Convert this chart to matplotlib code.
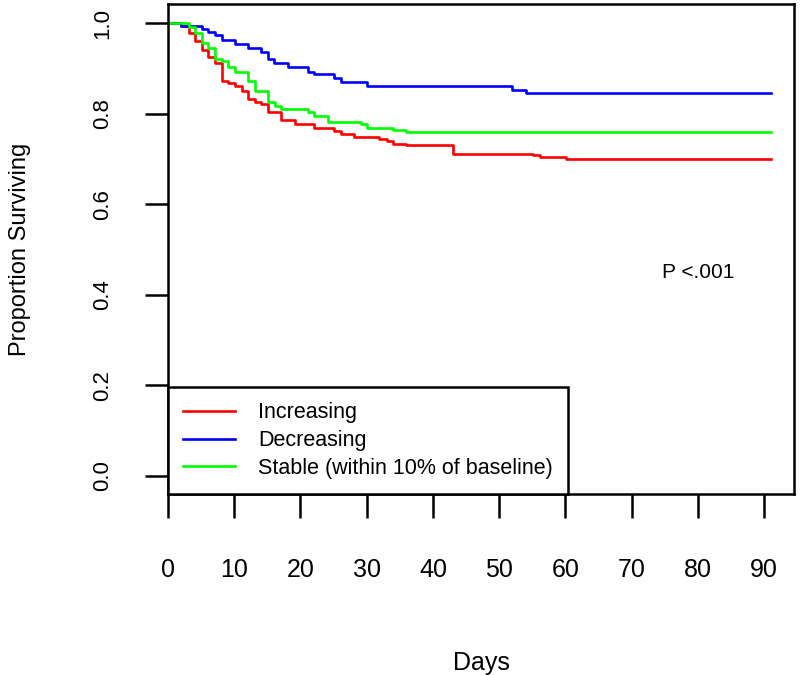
import numpy as np
import matplotlib.pyplot as plt

# Kaplan-Meier step data (days, proportion surviving)
inc_t = [0, 1.9, 3.1, 4.1, 5.1, 6.1, 7.1, 8.1, 9.1, 10.1, 11.1, 12.1, 13.1, 14.1, 15.1,
         17.1, 19.1, 22.1, 25.1, 26.1, 28.1, 31.9, 33.0, 34.0, 36.0, 43.0, 55.1, 56.1, 60.1]
inc_s = [1.0, 0.994, 0.979, 0.961, 0.940, 0.926, 0.912, 0.873, 0.868, 0.861, 0.849, 0.832,
         0.826, 0.821, 0.804, 0.787, 0.777, 0.768, 0.762, 0.755, 0.748, 0.743, 0.739, 0.734,
         0.730, 0.712, 0.709, 0.704, 0.700]

dec_t = [0, 1.9, 5.1, 6.1, 7.1, 8.1, 10.1, 12.1, 14.1, 15.1, 16.0, 18.1, 21.1, 22.1,
         25.1, 26.1, 30.0, 52.0, 54.1]
dec_s = [1.0, 0.994, 0.988, 0.981, 0.974, 0.962, 0.953, 0.944, 0.937, 0.920, 0.911, 0.902,
         0.893, 0.887, 0.878, 0.870, 0.861, 0.852, 0.845]

stb_t = [0, 3.1, 4.1, 5.1, 6.1, 7.1, 8.1, 9.1, 10.1, 12.1, 13.1, 15.1, 16.1, 17.1, 21.1,
         22.1, 24.1, 29.1, 30.0, 34.0, 36.0]
stb_s = [1.0, 0.992, 0.977, 0.957, 0.944, 0.920, 0.917, 0.903, 0.891, 0.871, 0.849, 0.826,
         0.817, 0.811, 0.804, 0.795, 0.782, 0.777, 0.769, 0.765, 0.760]

end_day = 91
labels = ["Increasing", "Decreasing", "Stable (within 10% of baseline)"]
colors = ["#ff0000", "#0000ff", "#00ff00"]
x_ticks = [0, 10, 20, 30, 40, 50, 60, 70, 80, 90]
y_ticks = [0.0, 0.2, 0.4, 0.6, 0.8, 1.0]

plt.rcParams['font.family'] = ['Liberation Sans', 'DejaVu Sans']

fig = plt.figure(figsize=(8, 6.75), dpi=100)
ax = fig.add_axes([0.21, 0.268, 0.7825, 0.726])

for t, s, lab, c in zip([inc_t, dec_t, stb_t], [inc_s, dec_s, stb_s], labels, colors):
    tt = np.append(t, end_day)
    ss = np.append(s, s[-1])
    ax.step(tt, ss, where='post', color=c, lw=1.9, label=lab)

ax.set_xlim(0, 94.5)
ax.set_ylim(-0.04, 1.042)
for sp in ax.spines.values():
    sp.set_linewidth(1.8)

ax.set_xticks(x_ticks)
ax.set_xticklabels([str(v) for v in x_ticks], fontsize=18)
ax.set_yticks(y_ticks)
ax.set_yticklabels(["%.1f" % v for v in y_ticks], fontsize=16, rotation=90, va='center')
ax.tick_params(axis='x', length=17, width=1.8, pad=29)
ax.tick_params(axis='y', length=16.5, width=1.8, pad=23)

ax.set_xlabel("Days", fontsize=18, labelpad=50)
ax.set_ylabel("Proportion Surviving", fontsize=17, labelpad=44)
ax.text(80, 0.45, "P <.001", fontsize=15, ha='center', va='center')

lgd = ax.legend(loc='lower left', bbox_to_anchor=(0, 0), borderaxespad=0,
                fancybox=False, edgecolor='black', framealpha=1,
                prop={'size': 15.5}, handlelength=2.4,
                handletextpad=1.1, borderpad=0.7, labelspacing=0.32)
lgd.get_frame().set_linewidth(1.8)
for line in lgd.get_lines():
    line.set_linewidth(1.9)

fig.savefig("out.png", dpi=100)
